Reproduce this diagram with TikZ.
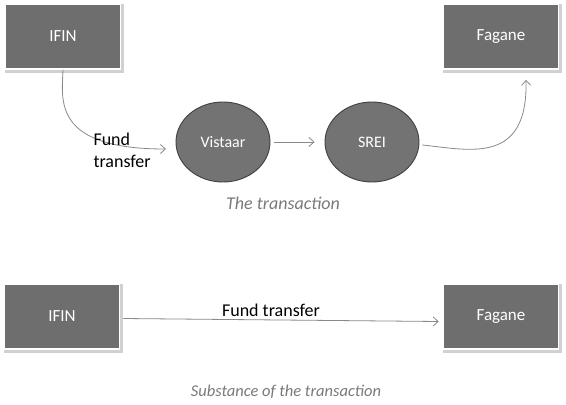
\documentclass[tikz,border=0pt]{standalone}
\usepackage{fontspec}
\setmainfont{Carlito}
\usetikzlibrary{arrows.meta,calc,shapes.geometric}
\definecolor{boxgray}{HTML}{6E6E6E}
\definecolor{ellgray}{HTML}{737373}
\definecolor{linegray}{HTML}{8A8A8A}
\definecolor{capgray}{HTML}{7A7A7A}
\tikzset{
  entity/.style={rectangle, fill=boxgray, draw=white, line width=1.5pt, minimum width=115pt, minimum height=65pt, text=white, font=\fontsize{17}{19}\selectfont},
  shadowbox/.style={fill=black!18, draw=none, minimum width=119pt, minimum height=69pt, rectangle},
  party/.style={ellipse, fill=ellgray, draw=black!75, line width=0.9pt, minimum width=94pt, minimum height=80pt, text=white, inner sep=0pt, font=\fontsize{16}{18}\selectfont},
  flow/.style={draw=linegray, line width=0.8pt, -{Straight Barb[length=5pt,width=9pt]}},
  caption/.style={text=capgray, font=\itshape\fontsize{18}{20}\selectfont},
  lbl/.style={text=black, font=\fontsize{18}{22}\selectfont}
}
\begin{document}
\begin{tikzpicture}[x=1pt,y=-1pt]
\useasboundingbox[fill=white] (0,0) rectangle (566,405);
% shadows
\node[shadowbox] at (64.5,38) {};
\node[shadowbox] at (502.5,38) {};
\node[shadowbox] at (63.5,318) {};
\node[shadowbox] at (502.5,318) {};
% top row
\node[entity] (ifin1) at (63,36.5) {IFIN};
\node[entity] (fag1) at (501,36.5) {Fagane};
\node[party] (vis) at (223,142) {Vistaar};
\node[party] (srei) at (372,142) {SREI};
\coordinate (c1) at (166,149);
\draw[flow] (ifin1.south) .. controls (62,100) and (52,149) .. (c1);
\node[lbl, align=left, anchor=west] (ft1) at (90,150) {Fund\\transfer};
\draw[flow] ($(vis.east)+(4,0)$) coordinate (va) -- ($(srei.west)+(-10,0)$) coordinate (sb);
\draw[flow] ($(srei.east)+(3,3)$) coordinate (s1) .. controls (470,150) and (528,165) .. ($(fag1.south)+(25,10)$) coordinate (f1);
\node[caption] (cap1) at (283,203) {The transaction};
% bottom row
\node[entity] (ifin2) at (62,316.5) {IFIN};
\node[entity] (fag2) at (501,316.5) {Fagane};
\draw[flow] ($(ifin2.east)+(3,2)$) coordinate (a2) -- ($(fag2.west)+(-4,5)$) coordinate (b2);
\node[lbl] (ft2) at (271,310) {Fund transfer};
\node[caption, font=\itshape\fontsize{16.5}{19}\selectfont] (cap2) at (286,392) {Substance of the transaction};
\end{tikzpicture}
\end{document}
